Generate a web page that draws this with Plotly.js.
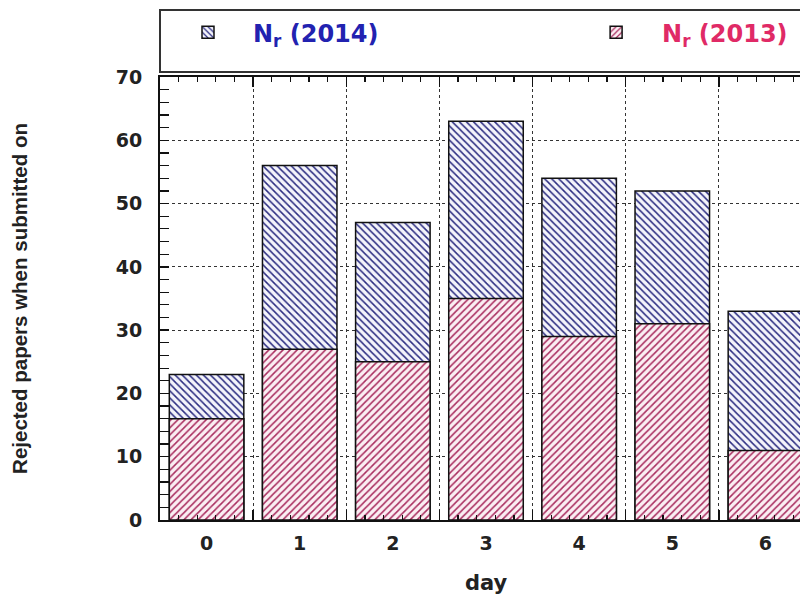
<!DOCTYPE html>
<html>
<head>
<meta charset="utf-8">
<script src="https://cdn.plot.ly/plotly-3.0.1.min.js"></script>
<style>
html,body{margin:0;padding:0;overflow:hidden;background:#fff;}
#chart{width:812px;height:599px;}
</style>
</head>
<body>
<div id="chart"></div>
<script>
const days = [0, 1, 2, 3, 4, 5, 6];
const dayLabels = ['0', '1', '2', '3', '4', '5', '6'];
const rejected2014 = [23, 56, 47, 63, 54, 52, 33];
const rejected2013 = [16, 27, 25, 35, 29, 31, 11];
const gridPositions = [0.5, 1.5, 2.5, 3.5, 4.5, 5.5, 6.5];

const traces = [
  {
    type: 'bar', x: days, y: rejected2014, width: 0.8,
    name: '<span style="color:#2222b0">N<sub>r</sub> (2014)</span>',
    xaxis: 'x', yaxis: 'y', legend: 'legend',
    marker: {
      color: '#f4f4fb',
      line: {color: '#111', width: 1.5},
      pattern: {shape: '\\', fgcolor: '#2a2b80', bgcolor: '#f4f4fb', size: 5, solidity: 0.3}
    }
  },
  {
    type: 'bar', x: days, y: rejected2013, width: 0.8,
    name: '<span style="color:#e02a66">N<sub>r</sub> (2013)</span>',
    xaxis: 'x2', yaxis: 'y', legend: 'legend2',
    marker: {
      color: '#fbeef3',
      line: {color: '#111', width: 1.5},
      pattern: {shape: '/', fgcolor: '#a82c5e', bgcolor: '#fbeef3', size: 5, solidity: 0.3}
    }
  }
];

const tickFont = {family: 'DejaVu Sans, sans-serif', size: 19, color: '#222', weight: 'bold'};
const legendFont = {family: 'DejaVu Sans, sans-serif', size: 24, weight: 'bold', color: '#2222b0'};

const layout = {
  width: 812, height: 599,
  margin: {l: 160, r: 0, t: 77, b: 79, autoexpand: false},
  paper_bgcolor: '#fff', plot_bgcolor: '#fff',
  barmode: 'overlay',
  showlegend: true,
  legend: {
    orientation: 'h', x: 0.0046, xanchor: 'left', y: 1.10, yanchor: 'middle',
    font: legendFont, itemwidth: 80,
    bgcolor: 'rgba(0,0,0,0)', borderwidth: 0
  },
  legend2: {
    orientation: 'h', x: 0.629, xanchor: 'left', y: 1.10, yanchor: 'middle',
    font: legendFont, itemwidth: 82,
    bgcolor: 'rgba(0,0,0,0)', borderwidth: 0
  },
  xaxis: {
    range: [-0.5, 6.5], tickmode: 'array', tickvals: gridPositions,
    showticklabels: false, ticks: 'inside', ticklen: 10, tickcolor: '#111', tickwidth: 1.5,
    showgrid: true, gridcolor: '#333', griddash: 'dot', gridwidth: 1,
    showline: true, linecolor: '#111', linewidth: 2, mirror: 'allticks', zeroline: false,
    minor: {tick0: 0.1, dtick: 0.2, ticks: 'inside', ticklen: 5, tickcolor: '#111', tickwidth: 1.2, showgrid: false}
  },
  xaxis2: {
    overlaying: 'x', anchor: 'y', side: 'bottom',
    range: [-0.5, 6.5], tickmode: 'array', tickvals: days, ticktext: dayLabels,
    ticks: '', showgrid: false, zeroline: false, showline: false,
    tickfont: tickFont, ticklabelstandoff: 10,
    title: {text: 'day', font: {family: 'DejaVu Sans, sans-serif', size: 21, color: '#222', weight: 'bold'}, standoff: 22}
  },
  xaxis3: {
    overlaying: 'x', anchor: 'y', side: 'top',
    range: [-0.5, 6.5], tick0: 0.1, dtick: 0.2,
    ticks: 'inside', ticklen: 5, tickcolor: '#111', tickwidth: 1.2,
    showticklabels: false, showgrid: false, zeroline: false, showline: false
  },
  yaxis: {
    range: [0, 70], tick0: 0, dtick: 10,
    ticks: 'inside', ticklen: 9, tickcolor: '#111', tickwidth: 1.5,
    showgrid: true, gridcolor: '#333', griddash: 'dot', gridwidth: 1,
    showline: true, linecolor: '#111', linewidth: 2, mirror: 'allticks', zeroline: false,
    tickfont: tickFont, ticklabelstandoff: 12,
    minor: {dtick: 2, ticks: 'inside', ticklen: 5, tickcolor: '#111', tickwidth: 1.2, showgrid: false},
    title: {text: 'Rejected papers when submitted on', font: {family: 'Liberation Sans, Arial, sans-serif', size: 20.5, color: '#222', weight: 'bold'}, standoff: 83}
  },
  shapes: [
    {type: 'rect', xref: 'paper', yref: 'paper', x0: 0, x1: 1.05, y0: 1.0113, y1: 1.151,
     line: {color: '#333', width: 2}, fillcolor: 'rgba(0,0,0,0)', layer: 'above'}
  ]
};

Plotly.newPlot('chart', traces, layout, {displayModeBar: false, staticPlot: true});
</script>
</body>
</html>
